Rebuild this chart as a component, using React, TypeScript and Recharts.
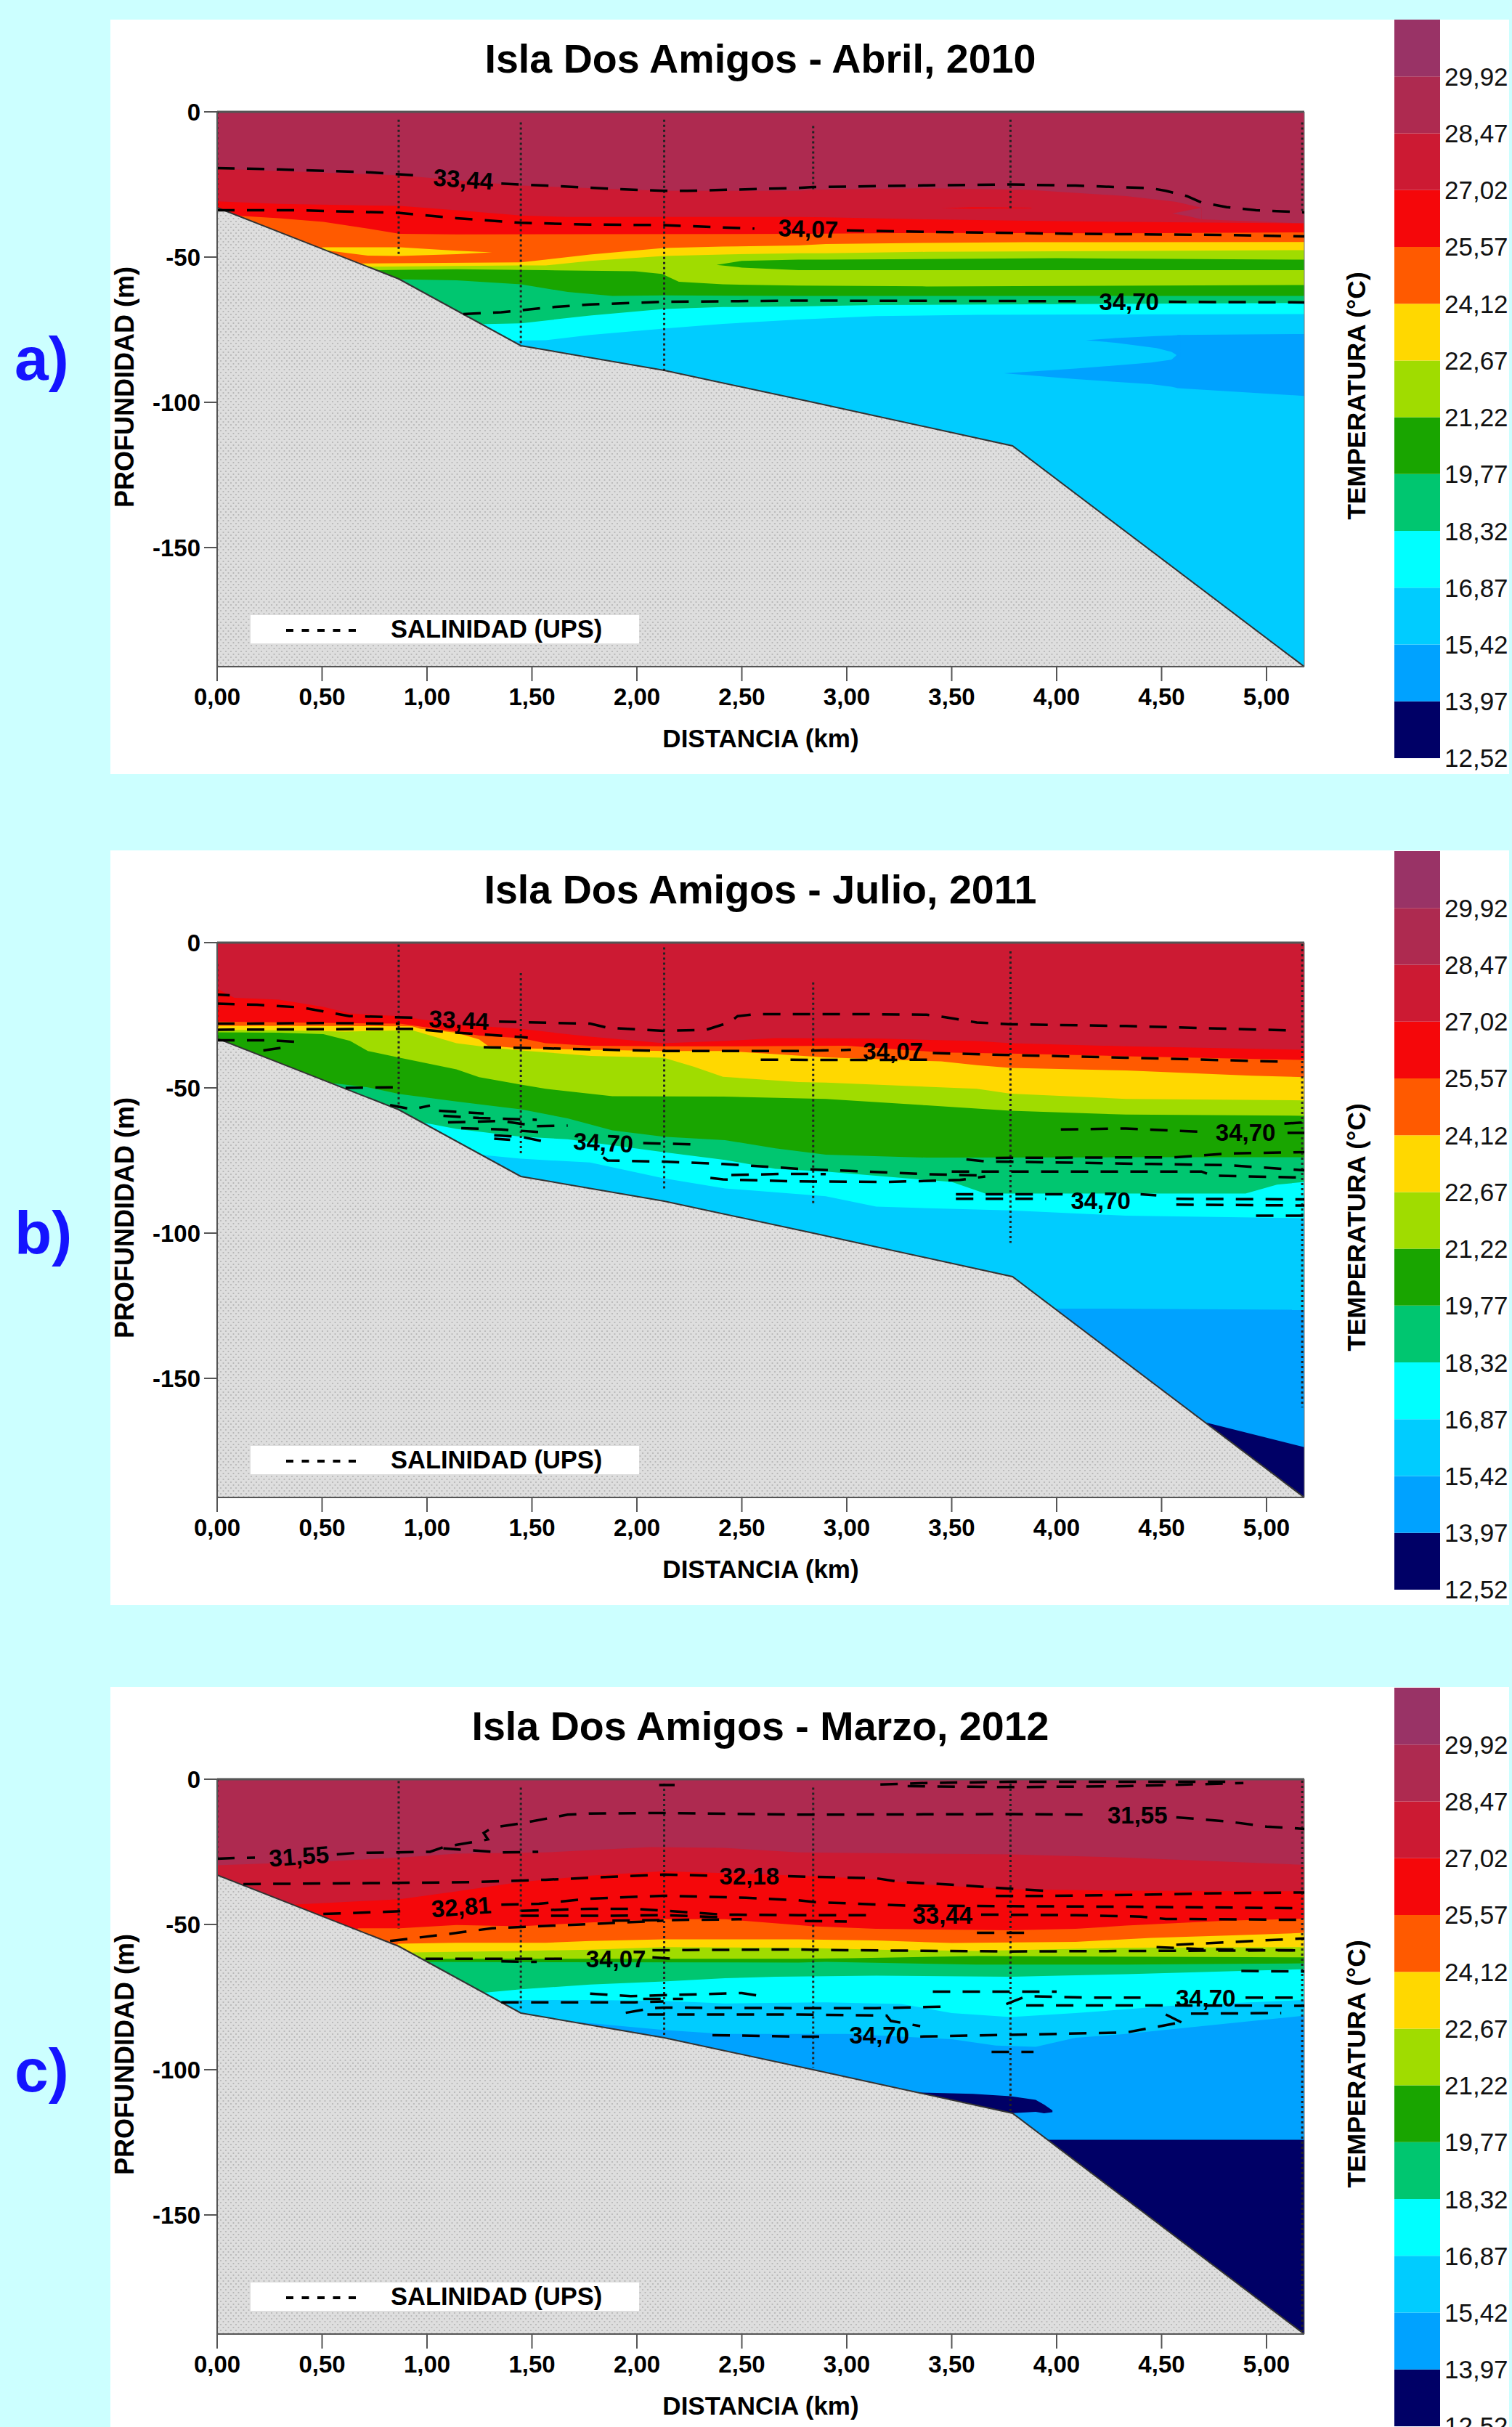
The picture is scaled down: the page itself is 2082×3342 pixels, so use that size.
import React from "react";
import {
  Area,
  Bar,
  BarChart,
  ComposedChart,
  Line,
  ReferenceDot,
  ReferenceLine,
  XAxis,
  YAxis,
} from "recharts";

const MAX_DEPTH = 191;
const MAX_DIST = 5.18;

const distTicks = [0, 0.5, 1, 1.5, 2, 2.5, 3, 3.5, 4, 4.5, 5];
const depthTicks = [0, -50, -100, -150];
const tempTicks = [12.52, 13.97, 15.42, 16.87, 18.32, 19.77, 21.22, 22.67, 24.12, 25.57, 27.02, 28.47, 29.92];
const tempTop = 31.37;
const tempColors = ["#000066", "#00A2FF", "#00CCFF", "#00FFFF", "#00C670", "#19A500", "#A0DC00", "#FFD800", "#FF5A00", "#F5070A", "#CC1A33", "#AE2A50", "#993366"];

const NAVY = "#000066";
const BLUE = "#00A2FF";
const SKY = "#00CCFF";
const CYAN = "#00FFFF";
const TEAL = "#00C670";
const GREEN = "#19A500";
const LIME = "#A0DC00";
const YELLOW = "#FFD800";
const ORANGE = "#FF5A00";
const RED = "#F5070A";
const CRIMSON = "#CC1A33";
const WINE = "#AE2A50";

// seabed, same for all three sections: [km, depth]
const seabed = [[0, 33], [0.865, 57.5], [1.447, 80.5], [2.13, 89], [2.84, 100], [3.79, 115], [5.18, 191]];

// ---- Abril 2010: isotherms [km, depth], lenses [km, top, bottom]
const abrilCrimson = [[0, 19.6], [0.87, 21.9], [1.447, 25.4], [2.127, 27.2], [2.77, 27.2], [2.84, 26.8], [3.38, 26.3], [3.855, 26.8], [4.33, 29], [4.57, 31], [4.69, 33], [4.691, 37], [5.18, 38.4]];
const abrilWineTip = [[4.55, 35, 35], [4.62, 34, 35.8], [4.69, 33, 37]];
const abrilRed = [[0, 30.8], [0.294, 31.7], [0.87, 32.4], [1.14, 33.9], [1.447, 35.7], [1.67, 36.2], [2.77, 36.2], [2.9, 36.3], [3.38, 37], [3.855, 37.5], [4.33, 37.9], [5.18, 38.4]];
const abrilRedSliver = [[3.45, 33.2, 33.2], [3.6, 32.8, 33.4], [3.88, 33, 33.2]];
const abrilOrange = [[0, 33], [0.082, 35.7], [0.294, 36.6], [0.506, 37.9], [0.718, 40.2], [0.87, 42], [1.14, 42.2], [2.77, 42], [3.38, 41.7], [4.33, 41.8], [5.18, 41.5]];
const abrilYellowTongue = [[0.5, 46.6, 47.5], [0.718, 46.6, 49.5], [0.87, 46.6, 49.6], [1.14, 47.8, 49], [1.31, 48.4, 48.4]];
const abrilYellow = [[0.5, 53], [0.7, 52.2], [1.447, 51.8], [1.565, 50.9], [1.777, 49.1], [2.127, 46.9], [2.41, 46.4], [2.77, 46], [2.9, 45.5], [3.38, 45.1], [3.855, 44.9], [5.18, 44.8]];
const abrilLime = [[0.7, 53.3], [1.447, 52.9], [1.565, 52.9], [1.777, 51.3], [2.127, 49.6], [2.41, 49.1], [2.77, 48.7], [2.9, 48.7], [3.38, 48.2], [5.18, 47.6]];
const abrilGreenLens = [[2.38, 52.7, 52.7], [2.5, 51.3, 53.6], [2.77, 50.9, 54.5], [2.9, 50.9, 54.5], [4, 50.4, 54.5], [5.18, 50.9, 54.5]];
const abrilGreen = [[0.75, 54.5], [1.14, 54.2], [1.565, 54.5], [1.99, 54.9], [2.12, 55.8], [2.2, 58.5], [2.41, 59.4], [2.77, 59.8], [3.38, 60.1], [5.18, 59.6]];
const abrilTeal = [[0.85, 57.6], [1.14, 58], [1.447, 59.4], [1.67, 62], [1.883, 63.4], [2.127, 63.2], [2.77, 63.4], [5.18, 63.4]];
const abrilCyan = [[1.2, 73.2], [1.447, 72.8], [1.777, 70.1], [2.127, 67.9], [2.41, 67.2], [2.77, 67], [3.14, 66.5], [5.18, 65.8]];
const abrilSky = [[1.35, 78.8], [1.565, 78.6], [1.777, 76.8], [2.127, 74.6], [2.41, 73], [2.77, 71.5], [3.14, 70.3], [3.62, 69.9], [5.18, 69.6]];
const abrilBlueLower = [[3.75, 90, 90], [4.09, 88.4, 92], [4.45, 86.3, 93.75], [4.547, 85.3, 94.6], [4.57, 83.9, 95], [4.575, 76.8, 95.1], [5.18, 76.5, 97.8]];
const abrilBlueUpper = [[4.14, 78.6, 78.6], [4.28, 77.9, 79.5], [4.475, 77.2, 81.3], [4.547, 77, 82.6], [4.59, 76.8, 84.5]];

const abrilSal1a = [[0, 19.4], [0.294, 19.8], [0.718, 20.8], [0.98, 22]];
const abrilSal1b = [[1.354, 24.7], [1.565, 25.4], [1.883, 26.5], [2.127, 27.2], [2.24, 27.2], [2.77, 26.2], [2.84, 25.9], [3.38, 25.3], [3.78, 25], [4.09, 25.4], [4.45, 26.3], [4.52, 27.2], [4.62, 29], [4.69, 31.2], [4.81, 32.8], [4.95, 33.9], [5.18, 34.6]];
const abrilSal2a = [[0, 33.9], [0.4, 33.9], [0.87, 34.8], [1.14, 36.6], [1.447, 38.2], [1.777, 38.8], [2.127, 39], [2.56, 40.2]];
const abrilSal2b = [[3, 40.8], [3.38, 41.3], [4.09, 42], [4.81, 42.4], [5.18, 42.9]];
const abrilSal3a = [[1.173, 69.6], [1.354, 69], [1.565, 67.4], [1.777, 66.3], [2.127, 65.4], [2.77, 65], [4.14, 65.2]];
const abrilSal3b = [[4.535, 65.4], [5.18, 65.6]];
const abrilStations = [[0, 0, 33], [0.865, 2.7, 49.5], [1.447, 3.6, 80.8], [2.13, 2.7, 89.3], [2.84, 4.9, 27], [3.78, 2.7, 33.5], [5.17, 3.6, 34.8]];
const abrilLabels = [["33,44", 1.173, 23.2, 4], ["34,07", 2.816, 40.2, 2], ["34,70", 4.345, 65.2, 0]];

// ---- Julio 2011
const julioRed = [[0, 15.9], [0.082, 19], [0.294, 19.6], [0.506, 22.1], [0.633, 24.4], [0.87, 25.3], [1.14, 28.2], [1.447, 29.7], [1.777, 32.4], [2.127, 34.6], [2.41, 33.9], [2.66, 32.9], [3.14, 33], [3.62, 33.9], [3.78, 34.6], [4.33, 35.7], [5.18, 36.9]];
const julioOrange = [[0, 27.2], [0.87, 27.9], [1.14, 30.6], [1.248, 32], [1.447, 32.9], [1.565, 34.6], [1.777, 35.5], [2.127, 35.7], [2.41, 35.7], [3, 35.5], [3.45, 37.8], [3.78, 38.2], [4.33, 39.1], [5.18, 40.4]];
const julioYellow = [[0, 28.6], [0.93, 28.8], [0.97, 29.7], [1.14, 31], [1.248, 33.3], [1.29, 35.5], [1.447, 36.4], [1.777, 36.9], [2.127, 37.3], [2.42, 37.3], [2.9, 39.5], [3.45, 40.9], [3.62, 42.2], [3.78, 43.1], [4.33, 44], [4.93, 45.8], [5.18, 46.3]];
const julioLime = [[0, 30], [0.3, 30.2], [0.61, 30.6], [0.93, 30.2], [0.97, 31], [1.14, 34.6], [1.29, 36], [1.447, 37.1], [1.78, 39], [2.127, 39.6], [2.27, 42.7], [2.41, 46.2], [2.77, 48], [2.9, 48.2], [3.62, 50.3], [3.78, 52], [4.33, 53.8], [5.18, 54.3]];
const julioGreen = [[0, 30.9], [0.294, 31], [0.506, 31.5], [0.633, 33.8], [0.718, 37.3], [0.87, 39.6], [1.14, 43.6], [1.248, 46.3], [1.447, 48.9], [1.565, 50.3], [1.883, 52.9], [2.41, 53], [2.9, 53.8], [3.38, 56], [3.78, 57.9], [4.33, 59.2], [5.18, 59.6]];
const julioTeal = [[0.55, 48.4], [0.718, 49.8], [0.87, 52.1], [1.14, 54.7], [1.447, 57.4], [1.67, 60.5], [1.883, 64.6], [2.127, 66.8], [2.42, 68], [2.66, 70.8], [2.9, 73], [3.38, 74], [4.33, 73.9], [5.18, 73.9]];
const julioCyan = [[0.95, 61.5], [1.14, 64.1], [1.447, 66.8], [1.67, 67.7], [2.127, 72.1], [2.42, 74.8], [2.66, 77.9], [2.9, 78.8], [3.5, 82.4], [3.66, 86.4], [4.9, 86.4], [5.05, 83.3], [5.18, 82.4]];
const julioSky = [[1.25, 73], [1.447, 74.4], [1.777, 75.7], [2.127, 81.1], [2.42, 84.6], [2.9, 87.3], [3.14, 90.9], [3.78, 92.2], [4.33, 94], [5.18, 94.9]];
const julioBlue = [[3.95, 126], [4.2, 126], [5.18, 126.4]];
const julioNavy = [[4.7, 165], [5.18, 173.7]];

const julioSal0 = [[0, 17.9], [0.06, 18.1]];
const julioSal1a = [[0, 21], [0.19, 21.4], [0.4, 22.3], [0.63, 25.3], [0.97, 25.9]];
const julioSal1b = [[1.343, 27.2], [1.777, 27.9], [1.86, 29.3], [2.127, 30.4], [2.33, 30], [2.44, 27.5], [2.48, 25.3], [2.565, 24.6], [3.02, 24.6], [3.38, 24.8], [3.47, 25.7], [3.62, 27.5], [3.78, 28.1], [4.33, 28.7], [5.1, 30.2]];
const julioSal2 = [[0, 27.9], [0.506, 27.7], [0.87, 27.9]];
const julioSal3 = [[0, 30], [0.506, 29.8], [0.93, 29.7], [1.14, 31], [1.31, 31.8], [1.48, 32.7]];
const julioSal4a = [[1.27, 36], [1.565, 36.4], [2.127, 37.3], [2.77, 37.3], [3.02, 36.9]];
const julioSal4b = [[3.41, 38], [3.78, 38.7], [4.33, 39.6], [5.085, 41]];
const julioSal5 = [[2.59, 40.3], [3.02, 40.4], [3.425, 40.3]];
const julioSal6 = [[0, 33.6], [0.25, 33.6], [0.38, 34.2], [0.42, 35.3]];
const julioSal7 = [[0.22, 37.1], [0.305, 36.2]];
const julioSal8 = [[0.612, 50], [0.866, 49.8]];
const julioMid1 = [[0.824, 55.9], [0.93, 57.4], [1.014, 56.1]];
const julioMid2 = [[1.057, 57.9], [1.27, 58.8]];
const julioMid3 = [[1.078, 59.6], [1.248, 60.4], [1.523, 61]];
const julioMid4 = [[1.1, 61.9], [1.354, 61.4], [1.523, 63.2], [1.67, 63]];
const julioMid5 = [[1.163, 63.9], [1.354, 64.3], [1.565, 65.4]];
const julioMid6 = [[1.32, 66.3], [1.46, 67], [1.565, 68.6]];
const julioMid7 = [[1.32, 67.5], [1.396, 67.9]];
const julioMid8 = [[2.03, 69], [2.286, 69.5]];
const julioMid9 = [[1.84, 73.9], [1.86, 75], [2.127, 75.4], [2.41, 76.2], [2.78, 77.9], [3.38, 79.7], [3.66, 80.2]];
const julioMid10 = [[2.35, 81], [2.41, 81.5], [2.77, 82.2], [3.19, 82.4], [3.54, 81.7], [3.66, 80.5]];
const julioMid11 = [[2.45, 80], [2.71, 79.6], [2.9, 79.7]];
const julioRight1 = [[4.02, 64.3], [4.33, 64], [4.71, 65.2]];
const julioRight1b = [[5.1, 65.5], [5.18, 65.5]];
const julioRight2 = [[5.085, 62.3], [5.18, 61.9]];
const julioRight3 = [[3.57, 74.6], [3.66, 75.3], [4.45, 76.2], [4.81, 76.6], [5, 77.5], [5.18, 78.4]];
const julioRight4 = [[3.71, 74.1], [4.57, 73.9], [4.81, 72.6], [5.18, 72.1]];
const julioRight5 = [[3.5, 78.8], [4.69, 78.8], [4.74, 80.2], [5.18, 80.9]];
const julioRight6 = [[3.52, 86.6], [4.05, 86.6]];
const julioRight7 = [[3.52, 88.2], [3.95, 88.2]];
const julioRight8 = [[4.4, 86.6], [4.475, 87]];
const julioRight9 = [[4.57, 88.2], [5.18, 88.4]];
const julioRight10 = [[4.57, 90.2], [5.18, 90.5]];
const julioRight11 = [[4.95, 94], [5.18, 94]];
const julioStations = [[0, 7.4, 33], [0.865, 0.7, 57], [1.447, 10.5, 73.5], [2.13, 1.6, 84.6], [2.84, 13.7, 90.4], [3.78, 3, 103.4], [5.17, 0.5, 160]];
const julioLabels = [["33,44", 1.152, 26.6, 3], ["34,70", 1.84, 68.8, 3], ["34,07", 3.22, 37.3, 0], ["34,70", 4.9, 65.4, 0], ["34,70", 4.21, 88.7, 0]];

// ---- Marzo 2012
const marzoCrimson = [[0, 29.6], [0.506, 28.3], [0.87, 27], [1.14, 25.6], [1.565, 25.2], [2.064, 23.4], [2.41, 23.6], [2.77, 25.2], [3.78, 25.9], [4.33, 27], [5.18, 29.5]];
const marzoRed = [[0.36, 43.2], [0.87, 41.3], [1.14, 38.6], [1.447, 35.4], [1.777, 33.2], [2.127, 31.7], [2.41, 32.3], [2.84, 33.4], [3.14, 34.5], [3.38, 36.3], [3.78, 37.9], [4.33, 38.4], [5.18, 38.6]];
const marzoOrange = [[0.67, 51.3], [0.87, 51.3], [1.14, 50.2], [1.447, 50.6], [1.777, 49.3], [2.127, 48.2], [2.42, 48.2], [2.84, 50.6], [3.14, 51.5], [3.78, 52], [4.09, 51.5], [4.33, 50.4], [4.81, 48.7], [5.18, 48]];
const marzoYellow = [[0.86, 56.6], [1.14, 56.3], [1.565, 56.3], [1.777, 55.7], [2.127, 55.1], [2.77, 55.1], [3.14, 55.5], [3.5, 56.4], [4.09, 56], [4.45, 54.6], [4.81, 53.8], [5.18, 52.9]];
const marzoLime = [[0.92, 59.6], [1.447, 59.1], [1.777, 58.7], [2.127, 57.8], [2.77, 58], [3.14, 58.7], [3.62, 59.1], [4.33, 58], [5.18, 57.8]];
const marzoGreen = [[0.97, 61.8], [2.77, 61.8], [3.02, 61.6], [3.62, 60.9], [5.18, 61.3]];
const marzoTeal = [[0.99, 62.9], [2.77, 63.1], [2.9, 62.9], [3.62, 63.8], [4.33, 63.8], [5.18, 63.4]];
const marzoCyan = [[1.27, 73.5], [1.447, 72.3], [1.777, 70.7], [2.127, 69.6], [2.42, 68.5], [2.66, 68], [3.14, 67.6], [3.78, 68], [4.33, 67.1], [5.18, 65.4]];
const marzoSky = [[1.36, 76.2], [1.447, 76], [1.78, 76], [2.127, 76.3], [2.42, 77.2], [2.9, 76.8], [3.26, 77.4], [3.5, 80.5], [3.78, 81.9], [4.09, 80.5], [4.57, 77.9], [5.18, 76]];
const marzoBlue = [[1.66, 83.2], [1.78, 84], [2.127, 86.3], [2.41, 87.7], [2.77, 87.7], [3, 87.7], [3.5, 89.5], [3.71, 91.7], [3.9, 92.1], [4.09, 89], [4.33, 87.7], [4.81, 84.1], [5.18, 81.4]];
const marzoNavyLens = [[3.33, 107.8, 108], [3.6, 108.3, 113], [3.78, 109.1, 115], [3.9, 110.4, 114.5], [3.94, 112, 115], [3.98, 114, 114.6]];
const marzoNavy = [[3.9, 124.1], [5.18, 124.1]];

const marzoSal1a = [[0, 27.4], [0.08, 27.1], [0.18, 27]];
const marzoSal1b = [[0.57, 25.9], [0.654, 25.4], [1.014, 25], [1.078, 23.4], [1.29, 20.7], [1.27, 18.5], [1.31, 16.7], [1.447, 15.2], [1.67, 12.2], [1.777, 11.8], [2.127, 11.6], [2.77, 12.2], [2.84, 12.2], [3.78, 12], [4.14, 12.2]];
const marzoSal1c = [[4.57, 13.1], [4.81, 14.5], [5, 16.3], [5.18, 17.1]];
const marzoSal2 = [[1.078, 23.8], [1.354, 25.2], [1.53, 25]];
const marzoTop1 = [[2.106, 2], [2.18, 2]];
const marzoTop2 = [[3.16, 1.8], [3.38, 1.3], [3.78, 0.9], [4.81, 0.9]];
const marzoTop3 = [[3.29, 2.4], [3.78, 2.7], [4.33, 2.4], [4.89, 1.3]];
const marzoSal3a = [[0.125, 36.1], [0.845, 35.7], [1.226, 35.4], [1.565, 34.6], [1.947, 33.4], [2.127, 32.8], [2.35, 33.2]];
const marzoSal3b = [[2.72, 33.4], [3.14, 34.1], [3.26, 35.4], [3.5, 36.3], [3.78, 37.7], [3.99, 38.6]];
const marzoSal4 = [[3.71, 40.2], [3.9, 40.2], [4.285, 39.9], [4.81, 39.2], [5.18, 39]];
const marzoSal5a = [[0.506, 46.4], [0.93, 45.3]];
const marzoSal5b = [[1.354, 43.2], [1.533, 42.9], [1.777, 41.1], [2.127, 40.1], [2.52, 40.8], [2.77, 41.7], [2.85, 42.3], [3.28, 43.5], [3.78, 43.7], [4.33, 43.9], [5.18, 44.4]];
const marzoSal6a = [[1.449, 45.3], [1.777, 44.6], [1.99, 44.6], [2.41, 46.6], [2.77, 46.8], [3.14, 46.8]];
const marzoSal6b = [[3.64, 46.6], [4.09, 46.8], [4.4, 47.3], [4.52, 48.1], [5.18, 48.4]];
const marzoSal7 = [[1.449, 47], [1.883, 47], [2.127, 46.8], [2.41, 47.5]];
const marzoSal8 = [[1.883, 48.7], [2.5, 48.2]];
const marzoSal8b = [[2.8, 48.8], [3, 49]];
const marzoSal9 = [[0.824, 55.7], [1.099, 53.3], [1.31, 51.3], [1.67, 50.2], [2.127, 48.7]];
const marzoSal10 = [[3.62, 52.9], [3.88, 52.9]];
const marzoSal11 = [[0.993, 61.8], [1.67, 61.8]];
const marzoSal12 = [[2.074, 61.3], [2.17, 61.8]];
const marzoSal13 = [[1.354, 62.7], [1.523, 62.9]];
const marzoSal14 = [[2.074, 58.9], [2.24, 58.8], [2.77, 58.6], [2.9, 58.8], [3.78, 59.3], [4.45, 59.1], [5.18, 58.9]];
const marzoSal15 = [[4.476, 57.8], [4.69, 58.5], [5.18, 58.9]];
const marzoSal16 = [[4.57, 57], [5.18, 54.8]];
const marzoSal17 = [[4.88, 66], [5.18, 66.2]];
const marzoSal18 = [[1.777, 73.8], [1.97, 74.7], [2.5, 73.6], [2.58, 74.5]];
const marzoSal19 = [[2.03, 75.6], [2.22, 75.6]];
const marzoSal20 = [[1.354, 76.8], [1.99, 76.8], [2.127, 76.5]];
const marzoSal21 = [[1.947, 80.4], [2.074, 78.8], [2.127, 78.6], [2.77, 78.8], [3.14, 78.8], [3.47, 78.3]];
const marzoSal22 = [[2.05, 81], [2.77, 81], [3.19, 81.4], [3.21, 83.2], [3.35, 85]];
const marzoSal23 = [[2.36, 88.1], [2.77, 88.6], [2.92, 88.6]];
const marzoSal24 = [[3.41, 73.1], [4, 73.1]];
const marzoSal25a = [[3.76, 77.4], [3.855, 74.7], [4.165, 75.2], [4.4, 75.2]];
const marzoSal25b = [[4.9, 75.2], [5.18, 75.2]];
const marzoSal26 = [[3.855, 77.9], [4.57, 77.9], [5.18, 78]];
const marzoSal27 = [[4.52, 81], [4.595, 83.7]];
const marzoSal27b = [[4.64, 80.7], [5.07, 80.5]];
const marzoSal28 = [[3.35, 88.6], [4.33, 87.2], [4.57, 84]];
const marzoSal29 = [[3.69, 93.9], [3.89, 93.9]];
const marzoStations = [[0, 0.2, 28], [0.865, 0.6, 51.5], [1.447, 2.9, 79], [2.13, 1.5, 88.6], [2.84, 2.9, 99.3], [3.78, 1.5, 114.5], [5.17, 0.5, 190]];
const marzoLabels = [["31,55", 0.39, 26.5, -4], ["32,81", 1.163, 43.9, -4], ["32,18", 2.536, 33.2, 0], ["33,44", 3.456, 46.8, 0], ["34,07", 1.9, 61.8, 0], ["31,55", 4.385, 12.2, 0], ["34,70", 4.71, 75.2, 0], ["34,70", 3.155, 88.1, 0]];

const abrilLayers = [
  [CRIMSON, abrilCrimson], [WINE, abrilWineTip], [RED, abrilRed], [RED, abrilRedSliver], [ORANGE, abrilOrange],
  [YELLOW, abrilYellowTongue], [YELLOW, abrilYellow], [LIME, abrilLime], [GREEN, abrilGreenLens], [GREEN, abrilGreen],
  [TEAL, abrilTeal], [CYAN, abrilCyan], [SKY, abrilSky], [BLUE, abrilBlueLower], [BLUE, abrilBlueUpper],
];
const julioLayers = [
  [RED, julioRed], [ORANGE, julioOrange], [YELLOW, julioYellow], [LIME, julioLime], [GREEN, julioGreen],
  [TEAL, julioTeal], [CYAN, julioCyan], [SKY, julioSky], [BLUE, julioBlue], [NAVY, julioNavy],
];
const marzoLayers = [
  [CRIMSON, marzoCrimson], [RED, marzoRed], [ORANGE, marzoOrange], [YELLOW, marzoYellow], [LIME, marzoLime],
  [GREEN, marzoGreen], [TEAL, marzoTeal], [CYAN, marzoCyan], [SKY, marzoSky], [BLUE, marzoBlue], [NAVY, marzoNavyLens], [NAVY, marzoNavy],
];
const abrilSal = [abrilSal1a, abrilSal1b, abrilSal2a, abrilSal2b, abrilSal3a, abrilSal3b];
const julioSal = [
  julioSal0, julioSal1a, julioSal1b, julioSal2, julioSal3, julioSal4a, julioSal4b, julioSal5, julioSal6, julioSal7, julioSal8,
  julioMid1, julioMid2, julioMid3, julioMid4, julioMid5, julioMid6, julioMid7, julioMid8, julioMid9, julioMid10, julioMid11,
  julioRight1, julioRight1b, julioRight2, julioRight3, julioRight4, julioRight5, julioRight6, julioRight7, julioRight8, julioRight9, julioRight10, julioRight11,
];
const marzoSal = [
  marzoSal1a, marzoSal1b, marzoSal1c, marzoSal2, marzoTop1, marzoTop2, marzoTop3, marzoSal3a, marzoSal3b, marzoSal4, marzoSal5a, marzoSal5b,
  marzoSal6a, marzoSal6b, marzoSal7, marzoSal8, marzoSal8b, marzoSal9, marzoSal10, marzoSal11, marzoSal12, marzoSal13, marzoSal14, marzoSal15,
  marzoSal16, marzoSal17, marzoSal18, marzoSal19, marzoSal20, marzoSal21, marzoSal22, marzoSal23, marzoSal24, marzoSal25a, marzoSal25b, marzoSal26,
  marzoSal27, marzoSal27b, marzoSal28, marzoSal29,
];

const comma = (v: number) => v.toFixed(2).replace(".", ",");

// [km, depth] -> isotherm, [km, top, bottom] -> closed lens
const toRows = (pts: number[][]) =>
  pts.map((p) => (p.length === 3 ? { x: p[0], d: [-p[2], -p[1]] } : { x: p[0], d: -p[1] }));
const toLine = (pts: number[][]) => pts.map((p) => ({ x: p[0], d: -p[1] }));

function DepthTitle() {
  return (
    <text x={0} y={0} transform="translate(32 506) rotate(-90)" textAnchor="middle" fontSize={36} fontWeight="bold" fill="#000">
      PROFUNDIDAD (m)
    </text>
  );
}

function Section({ id, top, plotTop, bottomWhite, title, background, layers, salinity, stations, labels }: any) {
  const marginTop = plotTop - top;
  const chartHeight = marginTop + MAX_DEPTH * 4 + 148;
  return (
    <>
      <div style={{ position: "absolute", left: 152, top, width: 1926, height: bottomWhite - top, background: "#fff" }} />
      <div style={{ position: "absolute", left: 152, top }}>
        <ComposedChart width={1926} height={chartHeight} margin={{ top: marginTop, right: 282, bottom: 0, left: 0 }}>
          <defs>
            <pattern id={id} width={7} height={8} patternUnits="userSpaceOnUse">
              <rect width={7} height={8} fill="#dedede" />
              <circle cx={1.5} cy={2} r={1.1} fill="#b4b4b4" />
              <circle cx={5} cy={6} r={1.1} fill="#b4b4b4" />
            </pattern>
          </defs>
          <XAxis
            type="number"
            dataKey="x"
            domain={[0, MAX_DIST]}
            ticks={distTicks}
            interval={0}
            tickFormatter={comma}
            tickSize={20}
            tickMargin={10}
            height={148}
            stroke="#555"
            strokeWidth={2}
            tick={{ fontSize: 33, fontWeight: "bold", fill: "#000" }}
            allowDataOverflow
            label={{ value: "DISTANCIA (km)", position: "insideBottom", offset: 37, fontSize: 35, fontWeight: "bold", fill: "#000" }}
          />
          <YAxis
            type="number"
            domain={[-MAX_DEPTH, 0]}
            ticks={depthTicks}
            interval={0}
            tickSize={18}
            tickMargin={5}
            width={147}
            stroke="#555"
            strokeWidth={2}
            tick={{ fontSize: 33, fontWeight: "bold", fill: "#000" }}
            allowDataOverflow
            label={{ content: DepthTitle }}
          />
          <Area
            data={toRows([[0, 0], [MAX_DIST, 0]])}
            dataKey="d"
            type="linear"
            baseValue={-MAX_DEPTH}
            stroke="none"
            fill={background}
            fillOpacity={1}
            isAnimationActive={false}
            dot={false}
            activeDot={false}
          />
          {layers.map(([color, pts]: any, i: number) => (
            <Area
              key={i}
              data={toRows(pts)}
              dataKey="d"
              type="linear"
              baseValue={-MAX_DEPTH}
              stroke="none"
              fill={color}
              fillOpacity={1}
              isAnimationActive={false}
              dot={false}
              activeDot={false}
            />
          ))}
          <Area
            data={toRows(seabed)}
            dataKey="d"
            type="linear"
            baseValue={-MAX_DEPTH}
            stroke="#333"
            strokeWidth={2}
            fill={`url(#${id})`}
            fillOpacity={1}
            isAnimationActive={false}
            dot={false}
            activeDot={false}
          />
          <ReferenceLine y={0} stroke="#555" strokeWidth={3} />
          <ReferenceLine x={MAX_DIST} stroke="#777" strokeWidth={1} />
          {stations.map((s: number[], i: number) => (
            <Line
              key={`st${i}`}
              data={[{ x: s[0], d: -s[1] }, { x: s[0], d: -s[2] }]}
              dataKey="d"
              stroke="#222"
              strokeWidth={3}
              strokeDasharray="3 4"
              dot={false}
              activeDot={false}
              isAnimationActive={false}
            />
          ))}
          {salinity.map((pts: number[][], i: number) => (
            <Line
              key={`sal${i}`}
              data={toLine(pts)}
              dataKey="d"
              type="linear"
              stroke="#000"
              strokeWidth={3.5}
              strokeDasharray="24 17"
              dot={false}
              activeDot={false}
              isAnimationActive={false}
            />
          ))}
          {labels.map((l: any[], i: number) => (
            <ReferenceDot
              key={`lab${i}`}
              x={l[1]}
              y={-l[2]}
              r={0}
              fill="none"
              stroke="none"
              label={{ value: l[0], position: "center", angle: l[3], fontSize: 33, fontWeight: "bold", fill: "#000" }}
            />
          ))}
        </ComposedChart>
      </div>
      <div
        style={{
          position: "absolute",
          left: 152,
          top: top + 24,
          width: 1790,
          textAlign: "center",
          fontSize: 55.6,
          lineHeight: "60px",
          fontWeight: "bold",
          color: "#000",
        }}
      >
        {title}
      </div>
      <div style={{ position: "absolute", left: 345, top: plotTop + 693, width: 535, height: 39, background: "#fff" }}>
        <svg width={110} height={39} style={{ position: "absolute", left: 49, top: 0 }}>
          <line x1={0} x2={96} y1={21} y2={21} stroke="#000" strokeWidth={4} strokeDasharray="10 11.5" />
        </svg>
        <span style={{ position: "absolute", left: 193, top: 0, fontSize: 34.5, lineHeight: "39px", fontWeight: "bold", whiteSpace: "nowrap" }}>
          SALINIDAD (UPS)
        </span>
      </div>
    </>
  );
}

const tempRow: any = { name: "t", base: tempTicks[0] };
tempColors.forEach((_, i) => {
  const upper = i + 1 < tempTicks.length ? tempTicks[i + 1] : tempTop;
  tempRow[`b${i}`] = upper - tempTicks[i];
});

function TempTitle() {
  return (
    <text x={0} y={0} transform="translate(51 518) rotate(-90)" textAnchor="middle" fontSize={35.5} fontWeight="bold" fill="#000">
      TEMPERATURA (°C)
    </text>
  );
}

function ColorBar({ top }: any) {
  return (
    <div style={{ position: "absolute", left: 1829, top }}>
      <BarChart width={249} height={1052} data={[tempRow]} barCategoryGap={0} margin={{ top: 0, right: 0, bottom: 35, left: 91 }}>
        <XAxis dataKey="name" hide />
        <YAxis
          orientation="right"
          type="number"
          domain={[tempTicks[0], tempTop]}
          ticks={tempTicks}
          interval={0}
          width={95}
          allowDataOverflow
          axisLine={false}
          tickLine={false}
          tickMargin={0}
          tickFormatter={comma}
          tick={{ fontSize: 35, fill: "#111" }}
          label={{ content: TempTitle }}
        />
        <Bar dataKey="base" stackId="t" fill="none" isAnimationActive={false} />
        {tempColors.map((c, i) => (
          <Bar key={c} dataKey={`b${i}`} stackId="t" fill={c} isAnimationActive={false} />
        ))}
      </BarChart>
    </div>
  );
}

function PanelLetter({ text, y }: any) {
  return (
    <div style={{ position: "absolute", left: 20, top: y - 50, fontSize: 84, lineHeight: "100px", fontWeight: "bold", color: "#1414FF" }}>
      {text}
    </div>
  );
}

export default function App() {
  return (
    <div
      style={{
        position: "absolute",
        left: 0,
        top: 0,
        width: 2082,
        height: 3342,
        overflow: "hidden",
        background: "#CCFFFF",
        fontFamily: "'Liberation Sans', Arial, sans-serif",
      }}
    >
      <Section id="rocksA" top={27} plotTop={154} bottomWhite={1066} title="Isla Dos Amigos - Abril, 2010" background={WINE} layers={abrilLayers} salinity={abrilSal} stations={abrilStations} labels={abrilLabels} />
      <Section id="rocksB" top={1171} plotTop={1298} bottomWhite={2210} title="Isla Dos Amigos - Julio, 2011" background={CRIMSON} layers={julioLayers} salinity={julioSal} stations={julioStations} labels={julioLabels} />
      <Section id="rocksC" top={2323} plotTop={2450} bottomWhite={3342} title="Isla Dos Amigos - Marzo, 2012" background={WINE} layers={marzoLayers} salinity={marzoSal} stations={marzoStations} labels={marzoLabels} />
      <ColorBar top={27} />
      <ColorBar top={1172} />
      <ColorBar top={2324} />
      <PanelLetter text="a)" y={494} />
      <PanelLetter text="b)" y={1698} />
      <PanelLetter text="c)" y={2851} />
    </div>
  );
}
